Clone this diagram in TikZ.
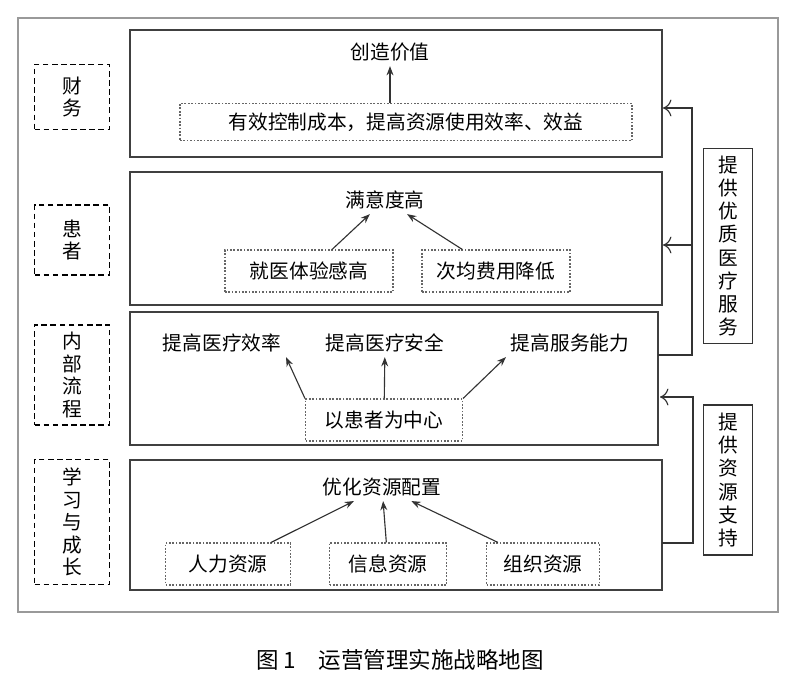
\documentclass[tikz,border=0pt]{standalone}
\usepackage{fontspec}
\newfontfamily\cjk{Noto Sans CJK SC}
\usetikzlibrary{positioning,arrows.meta}
\tikzset{
  panel/.style={draw=black!75,thick,rectangle},
  side/.style={draw=black,line width=1.3pt,dash pattern=on 4pt off 2.5pt,rectangle,align=center,font=\cjk\fontsize{14}{16}\selectfont},
  dotbox/.style={draw=black!60,dash pattern=on 1.2pt off 1.2pt,thick,rectangle,font=\cjk\fontsize{14}{16}\selectfont,inner xsep=10pt,minimum height=42*0.025cm},
  txt/.style={font=\cjk\fontsize{14}{16}\selectfont},
  vbox/.style={draw=black!80,thick,rectangle,align=center,font=\cjk\fontsize{14}{16.5}\selectfont,inner sep=5pt},
  arr/.style={-{Stealth},black!80,thick},
  larr/.style={-{To[length=6pt,width=12pt]},black!80,thick}
}
\begin{document}
\begin{tikzpicture}[x=0.025cm,y=-0.025cm]
\useasboundingbox (0,0) rectangle (800,688);
\draw[black!40,thick](18,18) rectangle (778,612);
%perspective labels
\node[side,minimum width=75*0.025cm,minimum height=65*0.025cm](fin)at(72,97){财\\务};
\node[side,minimum width=75*0.025cm,minimum height=70*0.025cm](pat)at(72,240){患\\者};
\node[side,minimum width=75*0.025cm,minimum height=100*0.025cm](proc)at(72,375){内\\部\\流\\程};
\node[side,minimum width=75*0.025cm,minimum height=125*0.025cm](learn)at(72,522){学\\习\\与\\成\\长};
%panels
\draw[panel](130,30) rectangle (662,157);
\draw[panel](130,172) rectangle (662,305);
\draw[panel](130,312) rectangle (658,445);
\draw[panel](130,460) rectangle (662,590);
%finance
\node[txt](value)at(390,52){创造价值};
\node[dotbox,minimum width=452*0.025cm,minimum height=37*0.025cm](cost)at(406,122){有效控制成本，提高资源使用效率、效益};
\draw[arr](value.south|-cost.north)--(value);
%patient
\node[txt](satis)at(385,200){满意度高};
\node[dotbox,minimum width=168*0.025cm](exp)at(309,271){就医体验感高};
\node[dotbox,minimum width=148*0.025cm](fee)at(496,271){次均费用降低};
\draw[arr](exp)--(satis);
\draw[arr](fee)--(satis);
%process
\node[txt](eff)at(222,343){提高医疗效率};
\node[txt](safe)at(385,343){提高医疗安全};
\node[txt](serv)at(570,343){提高服务能力};
\node[dotbox,minimum width=157*0.025cm](center)at(384,420){以患者为中心};
\draw[arr](center.north west)--(eff.south east);
\draw[arr](center)--(safe);
\draw[arr](center.north east)--(serv.south west);
%learning
\node[txt](opt)at(382,487){优化资源配置};
\node[dotbox,minimum width=125*0.025cm](hr)at(228,564){人力资源};
\node[dotbox,minimum width=117*0.025cm](info)at(388,564){信息资源};
\node[dotbox,minimum width=113*0.025cm](org)at(543,564){组织资源};
\draw[arr](hr)--(opt);
\draw[arr](info)--(opt);
\draw[arr](org)--(opt);
%right side
\node[vbox,minimum width=49*0.025cm,minimum height=195*0.025cm](qual)at(728,246){提\\供\\优\\质\\医\\疗\\服\\务};
\node[vbox,minimum width=49*0.025cm,minimum height=150*0.025cm](res)at(728,480){提\\供\\资\\源\\支\\持};
\coordinate(p3)at(658,355);
\coordinate(c1)at(692,355);
\coordinate(c2)at(692,108);
\coordinate(p4)at(662,543);
\coordinate(c3)at(693,543);
\coordinate(c4)at(693,397);
\draw[larr](p3)--(c1)--(c2)--(663,108);
\draw[larr](692,245)--(663,245);
\draw[larr](p4)--(c3)--(c4)--(660,397);
%caption
\node[font=\cjk\fontsize{16}{18}\selectfont](cap)at(400,660){图 1\quad 运营管理实施战略地图};
\end{tikzpicture}
\end{document}
